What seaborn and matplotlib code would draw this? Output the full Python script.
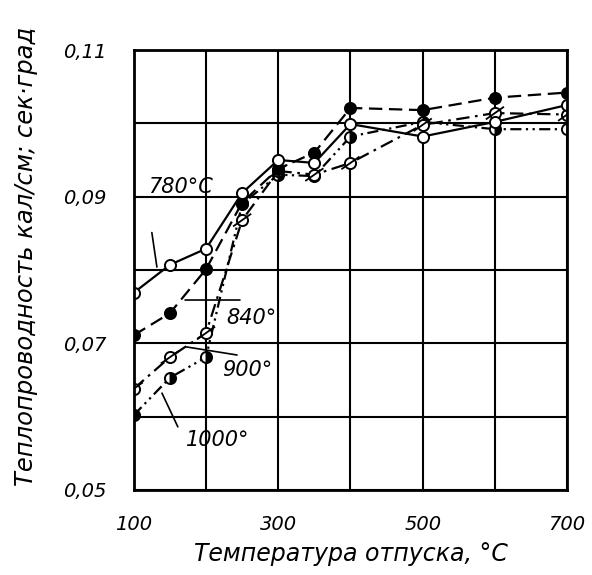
import numpy as np
import pandas as pd
import matplotlib
matplotlib.use("Agg")
import matplotlib.pyplot as plt
from matplotlib.path import Path
import seaborn as sns

# Tempering temperature, deg C
temps = [100, 150, 200, 250, 300, 350, 400, 500, 600, 700]

# Thermal conductivity, cal/(cm*s*deg), after hardening from each temperature
k_780 = [0.0769, 0.0807, 0.0829, 0.0905, 0.0950, 0.0946, 0.0999, 0.0982, 0.1002, 0.1025]
k_840 = [0.0711, 0.0741, 0.0801, 0.0892, 0.0938, 0.0960, 0.1021, 0.1018, 0.1035, 0.1042]
k_900 = [0.0638, 0.0681, 0.0714, 0.0868, 0.0935, 0.0930, 0.0946, 0.0998, 0.1014, 0.1012]
k_1000 = [0.0602, 0.0653, 0.0681, 0.0890, 0.0930, 0.0928, 0.0982, 0.1002, 0.0992, 0.0992]

x_ticks = [100, 300, 500, 700]
y_ticks = [0.05, 0.07, 0.09, 0.11]
y_tick_labels = ["0,05", "0,07", "0,09", "0,11"]

sns.set_theme(style="white")
plt.rcParams["font.family"] = ["DejaVu Sans"]
plt.rcParams["font.style"] = "italic"
plt.rcParams["text.color"] = "black"

fig = plt.figure(figsize=(5.92, 5.75), dpi=100)
ax = fig.add_axes([0.226, 0.148, 0.732, 0.765])

common = dict(color="black", linewidth=1.6, markeredgecolor="black",
              markeredgewidth=1.4, ax=ax, legend=False)

sns.lineplot(x=temps, y=k_1000, linestyle=(0, (5, 2, 1, 2, 1, 2)),
             marker="o", markersize=8, fillstyle="right",
             markerfacecolor="black", markerfacecoloralt="white", **common)
sns.lineplot(x=temps, y=k_900, linestyle=(0, (6, 2.5, 1.2, 2.5)),
             marker="o", markersize=8, markerfacecolor="white", **common)
# slash across each 900° marker
slash = Path([(-1.0, -0.7), (1.0, 0.7)], [Path.MOVETO, Path.LINETO])
ax.scatter(temps, k_900, marker=slash, s=170, facecolors="none",
           edgecolors="black", linewidths=1.3, zorder=3)
sns.lineplot(x=temps, y=k_840, linestyle=(0, (6, 3)),
             marker="o", markersize=8, markerfacecolor="black", **common)
sns.lineplot(x=temps, y=k_780, linestyle="-",
             marker="o", markersize=8, markerfacecolor="white", **common)

ax.set_xlim(100, 700)
ax.set_ylim(0.05, 0.11)
ax.set_xticks(np.arange(100, 701, 100), minor=True)
ax.set_yticks(np.arange(0.05, 0.1101, 0.01), minor=True)
ax.set_xticks(x_ticks)
ax.set_xticklabels([str(v) for v in x_ticks])
ax.set_yticks(y_ticks)
ax.set_yticklabels(y_tick_labels)
ax.grid(True, which="both", color="black", linewidth=1.5)
ax.set_axisbelow(True)
ax.tick_params(axis="both", which="both", length=0, labelsize=14,
               labelcolor="black")
ax.tick_params(axis="x", pad=18)
ax.tick_params(axis="y", pad=20)
for s in ax.spines.values():
    s.set_color("black")
    s.set_linewidth(2.0)

ax.set_xlabel("Температура отпуска, °С", fontsize=17, labelpad=6, color="black")
ax.set_ylabel("Теплопроводность кал/см; сек·град", fontsize=17.5, color="black")
ax.yaxis.set_label_coords(-0.22, 0.53)

lead = dict(arrowstyle="-", color="black", lw=1.2, shrinkA=0, shrinkB=0)
tkw = dict(fontsize=15, ha="center", va="center", color="black")
ax.text(164, 0.0913, "780°С", **tkw)
ax.annotate("", xy=(132, 0.0804), xytext=(125, 0.0851), arrowprops=lead)
ax.text(263, 0.0735, "840°", **tkw)
ax.annotate("", xy=(171, 0.0759), xytext=(247, 0.0759), arrowprops=lead)
ax.text(257, 0.0664, "900°", **tkw)
ax.annotate("", xy=(173, 0.0695), xytext=(243, 0.0684), arrowprops=lead)
ax.text(216, 0.0568, "1000°", **tkw)
ax.annotate("", xy=(139, 0.0632), xytext=(161, 0.0586), arrowprops=lead)

fig.savefig("out.png", dpi=100, facecolor="white")
